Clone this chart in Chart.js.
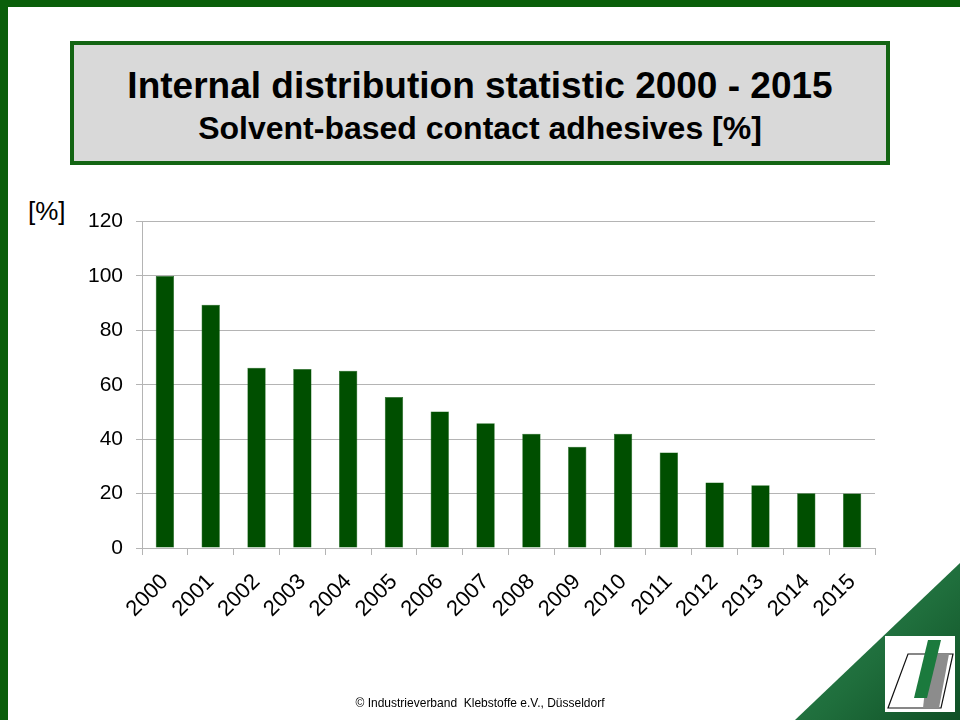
<!DOCTYPE html>
<html>
<head>
<meta charset="utf-8">
<script src="https://cdn.jsdelivr.net/npm/chart.js@4"></script>
<style>
  html, body { margin: 0; padding: 0; }
  body { width: 960px; height: 720px; position: relative; overflow: hidden; background: #fff;
         font-family: "Liberation Sans", Arial, sans-serif; }
  .frameTop { position: absolute; left: 0; top: 0; width: 960px; height: 7px; background: #0a5f0a; }
  .frameLeft { position: absolute; left: 0; top: 0; width: 8px; height: 720px; background: #0a5f0a; }
  .titleBox { position: absolute; left: 70px; top: 41px; width: 812px; height: 116px;
              border: 4px solid #136513; background: #d9d9d9; text-align: center; }
  .t1 { position: absolute; left: 0; right: 0; top: 20px; font-size: 37px; font-weight: bold; color: #000; }
  .t2 { position: absolute; left: 0; right: 0; top: 65px; font-size: 32px; font-weight: bold; color: #000; }
  .unit { position: absolute; left: 28px; top: 196px; font-size: 26px; color: #000; }
  .chartBox { position: absolute; left: 60px; top: 196px; width: 830px; height: 464px; }
  .footer { position: absolute; left: 0; width: 960px; top: 696px; text-align: center; font-size: 12px; color: #000; }
  .tri { position: absolute; left: 795px; top: 563px; width: 165px; height: 157px;
         clip-path: polygon(100% 0, 100% 100%, 0 100%);
         background: linear-gradient(135deg, #2f8a55 0%, #1f6e3c 55%, #0f4f25 100%); }
  .logo { position: absolute; left: 885px; top: 636px; width: 70px; height: 76px; background: #fff; }
</style>
</head>
<body>
<div class="frameTop"></div>
<div class="frameLeft"></div>
<div class="titleBox">
  <div class="t1">Internal distribution statistic 2000 - 2015</div>
  <div class="t2">Solvent-based contact adhesives [%]</div>
</div>
<div class="unit">[%]</div>
<div class="chartBox"><canvas id="adhesiveChart"></canvas></div>
<div class="tri"></div>
<div class="logo">
  <svg width="70" height="76" viewBox="0 0 70 76">
    <polygon points="23,18 68,18 56,72 3,72" fill="#fff" stroke="#111" stroke-width="1.2"/>
    <polygon points="44,18 64,18 54,72 38,72" fill="#8c8c8c"/>
    <polygon points="43,4 56,4 42,62 29,62" fill="#1b7a3d"/>
  </svg>
</div>
<div class="footer">© Industrieverband&nbsp; Klebstoffe e.V., Düsseldorf</div>

<script>
// values
const years = ['2000', '2001', '2002', '2003', '2004', '2005', '2006', '2007',
               '2008', '2009', '2010', '2011', '2012', '2013', '2014', '2015'];
const shares = [100, 89.4, 66.3, 65.8, 65.2, 55.5, 50.2, 45.9,
                42, 37.2, 42, 35.1, 24.1, 23.1, 20.1, 20];
const yMin = 0;
const yMax = 120;
const yStep = 20;

const gridGrey = '#b4b4b4';

const ctx = document.getElementById('adhesiveChart').getContext('2d');
const chart = new Chart(ctx, {
  type: 'bar',
  data: {
    labels: years,
    datasets: [{
      data: shares,
      backgroundColor: '#004f00',
      borderColor: '#0d5e0d',
      borderWidth: 0.5,
      barPercentage: 0.4,
      categoryPercentage: 1
    }]
  },
  options: {
    responsive: true,
    maintainAspectRatio: false,
    animation: false,
    layout: { padding: { top: 9, right: 15, left: 0, bottom: 0 } },
    plugins: { legend: { display: false }, tooltip: { enabled: false } },
    scales: {
      x: {
        grid: { display: true, drawOnChartArea: false, color: gridGrey, tickLength: 7, offset: true },
        border: { color: gridGrey },
        ticks: {
          color: '#000',
          font: { family: 'Liberation Sans', size: 22 },
          minRotation: 45,
          maxRotation: 45,
          padding: 14
        },
        afterFit: (scale) => { scale.height = 112; }
      },
      y: {
        min: yMin,
        max: yMax,
        grid: { color: gridGrey, tickLength: 6 },
        border: { color: gridGrey },
        ticks: {
          stepSize: yStep,
          color: '#000',
          font: { family: 'Liberation Sans', size: 21 },
          padding: 13
        },
        afterFit: (scale) => { scale.width = 82; }
      }
    }
  }
});
</script>
</body>
</html>
